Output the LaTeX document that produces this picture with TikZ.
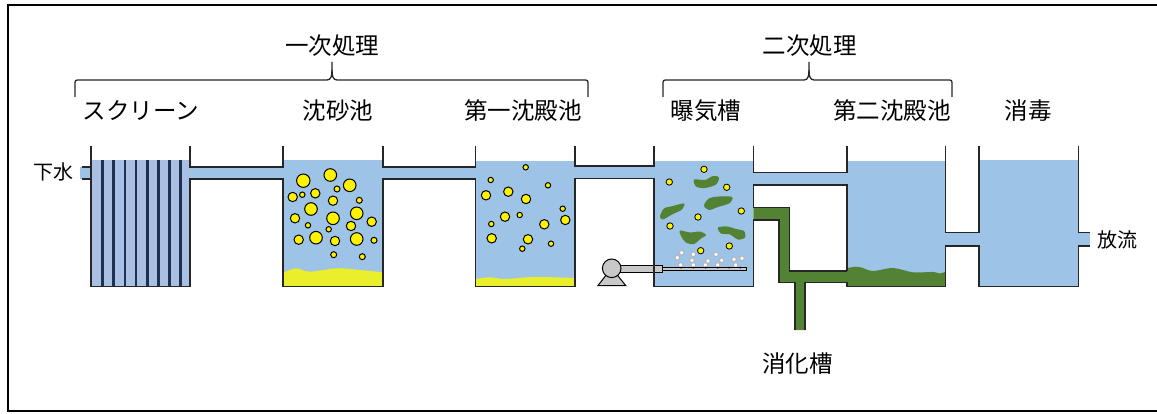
\documentclass[tikz,border=0pt]{standalone}
\usepackage{fontspec}
\newfontfamily\jp{Noto Sans CJK JP}
\definecolor{water}{HTML}{9DC3E6}
\definecolor{screenfill}{HTML}{A9C0E4}
\definecolor{barcol}{HTML}{1F3050}
\definecolor{sand}{HTML}{E9EF2A}
\definecolor{sludge}{HTML}{548235}
\definecolor{pumpgray}{HTML}{C8C8C8}
\begin{document}
\begin{tikzpicture}[x=1pt,y=-1pt,
  wall/.style={line width=1.4pt, line join=miter, draw=black!85},
  label/.style={font=\jp\fontsize{23.5}{28}\selectfont, inner sep=0pt},
  smalllabel/.style={font=\jp\fontsize{20}{24}\selectfont, inner sep=0pt},
  grain/.style={fill=yellow, draw=black, line width=1pt},
  dotgrain/.style={fill=yellow, draw=black, line width=0.8pt},
  bubble/.style={fill=white, draw=black!30, line width=0.9pt},
  floc/.style={fill=sludge},
  bracketline/.style={line width=1.3pt, draw=black!85},
  frameline/.style={line width=2.6pt}]
\useasboundingbox (0,0) rectangle (1157,414);

% outer frame (open to the right)
\draw[frameline] (1162,5) -- (8,5) -- (8,411) -- (1162,411);

% ---- water ----
\fill[water] (80,167) rectangle (91,179);
\fill[screenfill] (91,160.5) rectangle (190,286.5);
\fill[water] (190,167) rectangle (283,179);
\fill[water] (283,160.5) rectangle (383,286.5);
\fill[water] (383,167) rectangle (475.7,179);
\fill[water] (475.7,161) rectangle (575,286.5);
\fill[water] (575,166) rectangle (654,178.3);
\fill[water] (654,161) rectangle (753.3,286.5);
\fill[water] (753.3,172.3) rectangle (847,185);
\fill[water] (847,161) rectangle (945.7,286.5);
\fill[water] (945.7,232.3) rectangle (979,246);
\fill[water] (979,160.5) rectangle (1078.3,286.5);
\fill[water] (1078.3,232.3) rectangle (1090,246);

% ---- screen bars ----
\foreach \bx in {102.7,113.8,124.9,136,147.1,158.2,169.3,180.4}
  \fill[barcol] (\bx-1.4,160.5) rectangle (\bx+1.4,286.5);

% ---- settled sand and sludge ----
\fill[sand] (283,286.5) -- plot[smooth] coordinates {(283,272.7) (296,268.3) (310,271.7) (337,268.3) (360,270) (383,272.3)} -- (383,286.5) -- cycle;
\fill[sand] (475.7,286.5) -- plot[smooth] coordinates {(475.7,279) (490,277.3) (505,279) (535,277) (575,278)} -- (575,286.5) -- cycle;
\fill[sludge] (847,286.5) -- plot[smooth] coordinates {(847,268.3) (855,266.7) (862,267.7) (873,271) (893,268) (913,272.3) (933,272) (940,273.5) (945.7,271.5)} -- (945.7,286.5) -- cycle;

% ---- grit chamber particles ----
\foreach \px/\py/\pr in {303.3/180.7/6.7, 330.3/175/6.3, 349.7/185.3/6.3, 292.7/197/4.7, 302.3/194.7/2.7,
  315.3/193.3/4.7, 337/189/3, 333/200.7/4.7, 359.3/200.3/3, 311/209/6.3, 356.7/213.3/6.3,
  295/218.3/4.7, 333/218.3/6.3, 308/225.3/2.7, 351/226/4.7, 371.7/221.7/4.7, 328.7/229.3/2.7,
  298.7/239.7/4.7, 316/237.7/6.3, 335/241/4.7, 356.7/239/6.3, 374/240.3/3, 333.7/254.7/3, 362.3/256.7/3}
  \draw[grain] (\px,\py) circle[radius=\pr];

% ---- primary settling particles ----
\foreach \px/\py/\pr in {525.7/167.3/2.7, 490.7/180/2.7, 548/185.3/2.7, 486/195.3/4.7, 508.3/191.7/4.7,
  526/199/4.7, 562.7/208.7/2.7, 505/216.7/4.7, 519.7/215/2.7, 565.3/220/4.7, 491.3/224/2.7,
  544.3/224.3/4.7, 491.7/238.3/4.7, 528/239.3/4.7, 551/243.7/2.7, 522.3/248.7/2.7}
  \draw[grain] (\px,\py) circle[radius=\pr];

% ---- aeration tank: activated sludge flocs ----
\fill[floc] plot[smooth cycle] coordinates {(694,179.5) (705,180) (713,176) (719,177.5) (716,184.5) (705,188) (696,186.5)};
\fill[floc] plot[smooth cycle] coordinates {(704,205.5) (709,198.5) (719,196.5) (732,197) (730,203) (718,207) (709,210)};
\fill[floc] plot[smooth cycle] coordinates {(660,216.5) (664,208.5) (673,206) (684,203.5) (682,209.5) (672,214.5) (663,219.5)};
\fill[floc] plot[smooth cycle] coordinates {(680,230.5) (690,232.5) (700,231.5) (706,235) (701,238.5) (694,244) (686,242.5) (681,236)};
\fill[floc] plot[smooth cycle] coordinates {(718,227.5) (727,226.5) (736,229) (744,231) (745,237.5) (738,239.5) (730,234.5) (721,233.5)};
\foreach \px/\py in {704/169.3, 669.3/182, 726.7/187.3, 741.3/211, 698/217, 670/226, 729.3/246, 700.7/250.7}
  \draw[dotgrain] (\px,\py) circle[radius=3.2];

% air bubbles
\foreach \px/\py in {681.7/252.7, 677.3/257.7, 693.3/254.3, 692/260.3, 680.7/265, 693.3/265, 708/261,
  705.3/265, 716/254.3, 721.7/260.3, 717.7/265, 734/259.3, 742/258.3, 735.7/265}
  \draw[bubble] (\px,\py) circle[radius=2.3];

% ---- blower and diffuser ----
\draw[fill=pumpgray, line width=1pt] (598,285.5) -- (625.7,285.5) -- (611.7,268) -- cycle;
\draw[fill=pumpgray, line width=1pt] (617,265.7) rectangle (662.7,272.3);
\draw[fill=pumpgray, line width=1pt] (662.7,267.3) rectangle (746.7,270.7);
\foreach \nx in {681,693.3,705.7,717.7,729,740.3}
  \fill (\nx,267.6) circle[radius=1];
\draw[fill=pumpgray, line width=1pt] (611.7,268.3) circle[radius=9.3];

% ---- return / excess sludge line ----
\fill[sludge] (753.3,207.7) -- (789.3,207.7) -- (789.3,271) -- (847,271) -- (847,282.3) -- (805,282.3)
  -- (805,330) -- (795,330) -- (795,282.3) -- (779,282.3) -- (779,220) -- (753.3,220) -- cycle;
\draw[wall] (753.3,207.7) -- (789.3,207.7) -- (789.3,271) -- (847,271);
\draw[wall] (753.3,220) -- (779,220) -- (779,282.3) -- (795,282.3) -- (795,330);
\draw[wall] (805,330) -- (805,282.3) -- (847,282.3) -- (847,286.5);

% ---- tank walls and channels ----
\draw[wall] (82,167) -- (91,167);
\draw[wall] (82,179) -- (91,179);
\draw[wall] (91,146) -- (91,286.5) -- (190,286.5) -- (190,179) -- (283,179) -- (283,286.5) -- (383,286.5)
  -- (383,179) -- (475.7,179) -- (475.7,286.5) -- (575,286.5) -- (575,178.3) -- (654,178.3)
  -- (654,286.5) -- (753.3,286.5) -- (753.3,220);
\draw[wall] (753.3,185) -- (753.3,207.7);
\draw[wall] (753.3,185) -- (847,185) -- (847,271);
\draw[wall] (190,146) -- (190,167) -- (283,167) -- (283,146);
\draw[wall] (383,146) -- (383,167) -- (475.7,167) -- (475.7,146);
\draw[wall] (575,146) -- (575,166) -- (654,166) -- (654,146);
\draw[wall] (753.3,146) -- (753.3,172.3) -- (847,172.3) -- (847,146);
\draw[wall] (945.7,146) -- (945.7,232.3) -- (979,232.3) -- (979,146);
\draw[wall] (1078.3,146) -- (1078.3,232.3) -- (1090,232.3);
\draw[wall] (847,286.5) -- (945.7,286.5) -- (945.7,246) -- (979,246) -- (979,286.5) -- (1078.3,286.5)
  -- (1078.3,246) -- (1090,246);

% ---- stage brackets ----
\draw[bracketline] (75,97) -- (75,85) .. controls (75,80) .. (80,80) -- (327,80)
  .. controls (331,80) and (332,76) .. (332,70) -- (332,62);
\draw[bracketline] (332,70) .. controls (332,76) and (333,80) .. (337,80) -- (583,80)
  .. controls (588,80) .. (588,85) -- (588,97);
\draw[bracketline] (663,97) -- (663,85) .. controls (663,80) .. (668,80) -- (804,80)
  .. controls (808,80) and (809,76) .. (809,70) -- (809,62);
\draw[bracketline] (809,70) .. controls (809,76) and (810,80) .. (814,80) -- (947,80)
  .. controls (952,80) .. (952,85) -- (952,97);

% ---- labels ----
\node[label] (primary) at (332,46) {一次処理};
\node[label] (secondary) at (809.5,46) {二次処理};
\node[label] (screen) at (141,111) {スクリーン};
\node[label] (grit) at (338,111) {沈砂池};
\node[label] (firstclar) at (523,111) {第一沈殿池};
\node[label] (aeration) at (706,111) {曝気槽};
\node[label] (secondclar) at (892,111) {第二沈殿池};
\node[label] (disinfect) at (1028,111) {消毒};
\node[smalllabel] (sewage) at (54,172) {下水};
\node[smalllabel] (discharge) at (1117,240) {放流};
\node[label] (digester) at (797.5,364) {消化槽};
\end{tikzpicture}
\end{document}
